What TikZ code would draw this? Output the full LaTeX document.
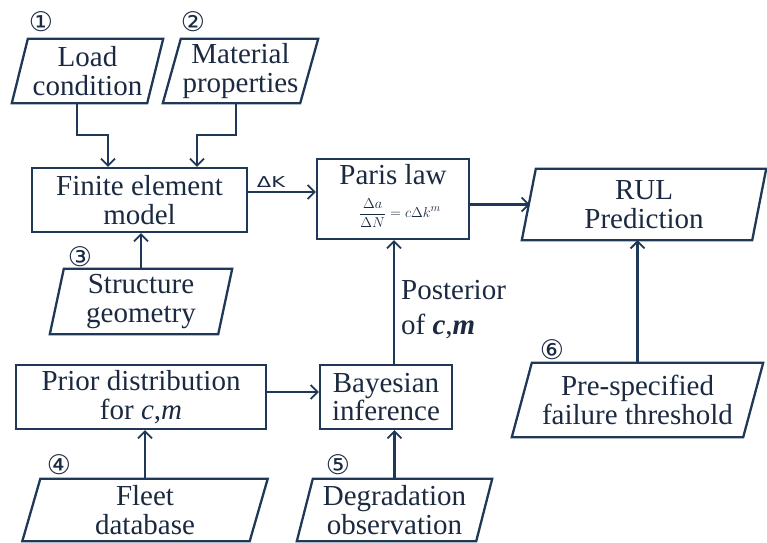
\documentclass[tikz,border=0pt]{standalone}
\usepackage{fontspec}
\setmainfont{LiberationSerif}[Extension=.ttf, UprightFont=*-Regular,
  ItalicFont=*-Italic, BoldFont=*-Bold, BoldItalicFont=*-BoldItalic]
\newfontfamily\symfont{DejaVu Sans}
\usetikzlibrary{arrows.meta,calc}

\definecolor{ink}{HTML}{1B2A41}
\definecolor{edge}{HTML}{1F3858}

\tikzset{
  x=1pt, y=-1pt,
  ln/.style={draw=edge, line width=2.3pt, line join=miter},
  arr/.style={ln, -{Straight Barb[length=7pt,width=14pt,line width=1.8pt]}},
  txt/.style={inner sep=0pt, align=center, text=ink,
              font=\rmfamily\fontsize{29}{28.5}\selectfont},
  boxnode/.style={txt, ln, rectangle},
  num/.style={inner sep=0pt, text=ink, font=\symfont\fontsize{27}{27}\selectfont},
}

% parallelogram outline around a (borderless) node: name, slant
\newcommand\paraoutline[2]{%
  \draw[ln] ($(#1.north west)+(#2,0)$) -- (#1.north east)
    -- ($(#1.south east)+(-#2,0)$) -- (#1.south west) -- cycle;}

\begin{document}
\begin{tikzpicture}
\useasboundingbox (0,0) rectangle (767,542);

% input data (parallelograms)
\node[txt, minimum width=151, minimum height=64] (load) at (87.5,71) {Load\\condition};
\paraoutline{load}{16}
\node[txt, minimum width=155, minimum height=64] (mat) at (240.5,71) {Material\\properties};
\paraoutline{mat}{18}
\node[txt, minimum width=182, minimum height=65] (geo) at (141,301.5) {Structure\\geometry};
\paraoutline{geo}{14}
\node[txt, minimum width=245, minimum height=62] (fleet) at (145,510) {Fleet\\database};
\paraoutline{fleet}{18}
\node[txt, minimum width=195, minimum height=62] (obs) at (394.5,510) {Degradation\\observation};
\paraoutline{obs}{16}
\node[txt, minimum width=251, minimum height=74] (thr) at (637.5,400) {Pre-specified\\failure threshold};
\paraoutline{thr}{20}
\node[txt, minimum width=244, minimum height=71] (rul) at (644,204.5) {RUL\\Prediction};
\paraoutline{rul}{14}

% processing blocks
\node[boxnode, minimum width=215, minimum height=64] (fem) at (139.5,200) {Finite element\\model};
\node[boxnode, minimum width=152, minimum height=80] (paris) at (393,199) {};
\node[txt] (parist) at (393,175) {Paris law};
\node[inner sep=0pt, text=ink, font=\fontsize{15}{17}\selectfont] (parisf) at (400,213)
  {$\displaystyle\frac{\Delta a}{\Delta N}=c\Delta k^{m}$};
\node[boxnode, minimum width=250, minimum height=64] (prior) at (141,397) {Prior distribution\\for \textit{c},\textit{m}};
\node[boxnode, minimum width=132, minimum height=64] (bayes) at (386,397) {Bayesian\\inference};

% circled step numbers
\node[num] (n1) at (41,22) {①};
\node[num] (n2) at (193,22) {②};
\node[num] (n3) at (80,257) {③};
\node[num] (n4) at (59,465) {④};
\node[num] (n5) at (338,465) {⑤};
\node[num] (n6) at (552,350) {⑥};

% labels on connectors
\node[inner sep=0pt, text=ink, font=\symfont\fontsize{15}{15}\selectfont] (dk) at (271,182)
  {\scalebox{1.4}[1]{ΔK}};
\node[inner sep=0pt, text=ink, anchor=west, align=left,
      font=\rmfamily\fontsize{29}{35}\selectfont] (post) at (401,310) {Posterior\\of \textbf{\textit{c}},\textbf{\textit{m}}};

% connectors
\coordinate (lb) at ($(load.south)+(-10.5,0)$);
\coordinate (mb) at ($(mat.south)+(-4.5,0)$);
\draw[arr] (lb) -- ++(0,32) -| ($(fem.north)+(-31.5,0)$);
\draw[arr] (mb) -- ++(0,32) -| ($(fem.north)+(57.5,0)$);
\draw[arr] (geo.north) -- (geo.north |- fem.south);
\coordinate (fo) at ($(fem.east)+(0,-8)$);
\draw[arr] (fo) -- (fo -| paris.west);
\coordinate (po) at (paris.east |- rul.west);
\draw[arr] (po) -- ($(rul.west)+(8,0)$);
\coordinate (pr) at ($(prior.east)+(0,-5)$);
\draw[arr] (pr) -- (pr -| bayes.west);
\coordinate (bt) at ($(bayes.north)+(8,0)$);
\draw[arr] (bt) -- (bt |- paris.south);
\draw[arr] (fleet.north) -- (fleet.north |- prior.south);
\draw[arr] (obs.north) -- (obs.north |- bayes.south);
\draw[arr] (thr.north) -- (thr.north |- rul.south);
\end{tikzpicture}
\end{document}
